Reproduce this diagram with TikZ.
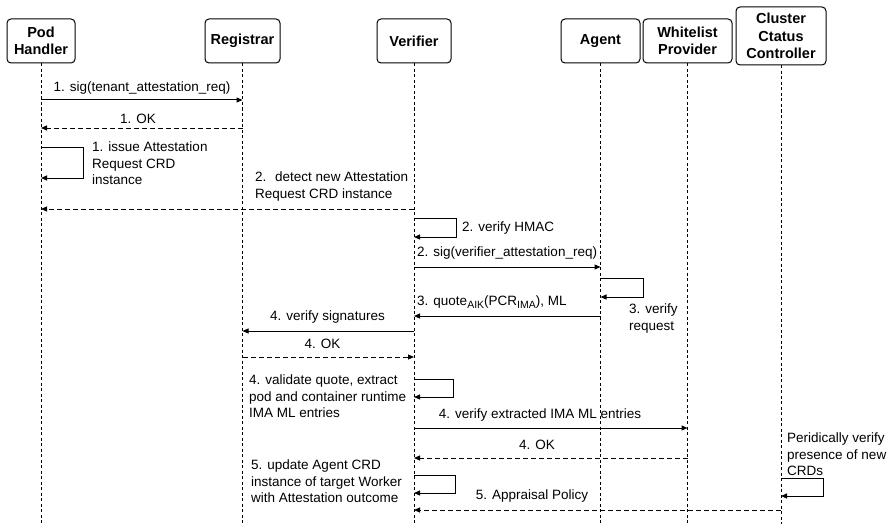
\documentclass[tikz,border=0pt]{standalone}
\usepackage{fontspec}
\setmainfont{Liberation Sans}
\usetikzlibrary{arrows.meta}
\newcommand{\lowsub}[1]{\raisebox{-3.5pt}{\fontsize{10.5}{10.5}\selectfont #1}}
\begin{document}
\begin{tikzpicture}[x=1pt,y=-1pt,
  actor/.style={draw,line width=1pt,rounded corners=4pt,font=\fontsize{14.5}{17.5}\selectfont\bfseries,align=center,inner sep=0pt},
  lifeline/.style={line width=0.9pt,dash pattern=on 3pt off 2.5pt},
  msg/.style={line width=1pt,-{Triangle[length=6pt,width=5pt]}},
  reply/.style={msg,dash pattern=on 5pt off 3pt},
  lbl/.style={font=\fontsize{13.5}{16.3}\selectfont,inner sep=0pt,align=left},
  ]
\useasboundingbox (0,0) rectangle (890,524);

% participants
\node[actor,minimum width=68pt,minimum height=44pt] (ph) at (41,41) {Pod\\Handler};
\node[actor,minimum width=75pt,minimum height=44pt] (reg) at (242.5,41) {Registrar};
\node[actor,minimum width=74pt,minimum height=44pt] (ver) at (414,41) {Verifier};
\node[actor,minimum width=79pt,minimum height=44pt] (ag) at (600.5,41) {Agent};
\node[actor,minimum width=89pt,minimum height=44pt] (wl) at (687.5,41) {Whitelist\\Provider};
\node[actor,minimum width=90pt,minimum height=58pt] (cc) at (781,36) {Cluster\\Ctatus\\Controller};

% lifeline ends
\coordinate (phE) at (41,524);
\coordinate (regE) at (242.5,524);
\coordinate (verE) at (414,524);
\coordinate (agE) at (600.5,524);
\coordinate (wlE) at (687.5,524);
\coordinate (ccE) at (781,524);

\draw[lifeline] (ph.south) -- (phE);
\draw[lifeline] (reg.south) -- (regE);
\draw[lifeline] (ver.south) -- (verE);
\draw[lifeline] (ag.south) -- (agE);
\draw[lifeline] (wl.south) -- (wlE);
\draw[lifeline] (cc.south) -- (ccE);

% message rows
\coordinate (r1) at (0,100);
\coordinate (r2) at (0,128);
\coordinate (r3a) at (0,147);
\coordinate (r3b) at (0,178);
\coordinate (r4) at (0,209);
\coordinate (r5a) at (0,218);
\coordinate (r5b) at (0,237);
\coordinate (r6) at (0,267);
\coordinate (r7a) at (0,278);
\coordinate (r7b) at (0,297);
\coordinate (r8) at (0,316);
\coordinate (r9) at (0,331);
\coordinate (r10) at (0,357);
\coordinate (r11a) at (0,379);
\coordinate (r11b) at (0,397);
\coordinate (r12) at (0,428);
\coordinate (r13) at (0,458);
\coordinate (r14a) at (0,475);
\coordinate (r14b) at (0,493);
\coordinate (r15a) at (0,478);
\coordinate (r15b) at (0,496);
\coordinate (r16) at (0,510);

% messages
\draw[msg] (ph |- r1) -- (reg |- r1);
\node[lbl,anchor=base] (t1) at (142,92) {1. sig(tenant\_attestation\_req)};

\draw[reply] (reg |- r2) -- (ph |- r2);
\node[lbl,anchor=base] (t2) at (138,123) {1. OK};

\draw[msg] (ph |- r3a) -- ++(42,0) |- (ph |- r3b);
\node[lbl,anchor=north west] (t3) at (92,142) {1. issue Attestation\\Request CRD\\instance};

\draw[reply] (ver |- r4) -- (ph |- r4);
\node[lbl,anchor=north west] (t4) at (255,172) {2.~ detect new Attestation\\Request CRD instance};

\draw[msg] (ver |- r5a) -- ++(42,0) |- (ver |- r5b);
\node[lbl,anchor=base west] (t5) at (462,231) {2. verify HMAC};

\draw[msg] (ver |- r6) -- (ag |- r6);
\node[lbl,anchor=base west] (t6) at (417,256) {2. sig(verifier\_attestation\_req)};

\draw[msg] (ag |- r7a) -- ++(42.5,0) |- (ag |- r7b);
\node[lbl,anchor=north west] (t7) at (629,304) {3. verify\\request};

\draw[msg] (ag |- r8) -- (ver |- r8);
\node[lbl,anchor=base west] (t8) at (417,305) {3. quote\lowsub{AIK}(PCR\lowsub{IMA}), ML};

\draw[msg] (ver |- r9) -- (reg |- r9);
\node[lbl,anchor=base] (t9) at (327.5,320) {4. verify signatures};

\draw[reply] (reg |- r10) -- (ver |- r10);
\node[lbl,anchor=base] (t10) at (322.5,348) {4. OK};

\draw[msg] (ver |- r11a) -- ++(39,0) |- (ver |- r11b);
\node[lbl,anchor=north west] (t11) at (249,375) {4. validate quote, extract\\pod and container runtime\\IMA ML entries};

\draw[msg] (ver |- r12) -- (wl |- r12);
\node[lbl,anchor=base] (t12) at (540,418) {4. verify extracted IMA ML entries};

\draw[reply] (wl |- r13) -- (ver |- r13);
\node[lbl,anchor=base] (t13) at (537,449) {4. OK};

\draw[msg] (ver |- r14a) -- ++(41,0) |- (ver |- r14b);
\node[lbl,anchor=north west] (t14) at (251,460) {5. update Agent CRD\\instance of target Worker\\with Attestation outcome};

\draw[msg] (cc |- r15a) -- ++(42,0) |- (cc |- r15b);
\node[lbl,anchor=north west] (t15) at (787,433) {Peridically verify\\presence of new\\CRDs};

\draw[reply] (cc |- r16) -- (ver |- r16);
\node[lbl,anchor=base] (t16) at (532,499) {5. Appraisal Policy};
\end{tikzpicture}
\end{document}
